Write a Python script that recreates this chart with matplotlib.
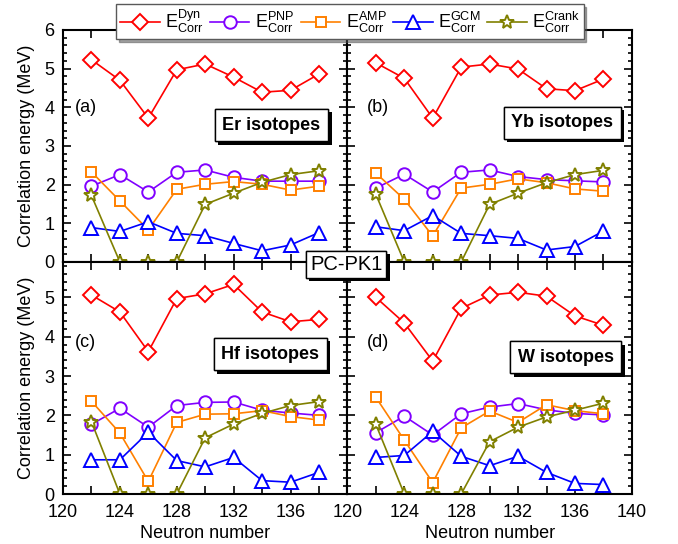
import matplotlib
matplotlib.use("Agg")
import matplotlib.pyplot as plt
import matplotlib.patheffects as pe
from matplotlib.ticker import MultipleLocator

plt.rcParams['font.family'] = ['Liberation Sans', 'DejaVu Sans']
plt.rcParams['mathtext.fontset'] = 'custom'
plt.rcParams['mathtext.rm'] = 'Liberation Sans'
plt.rcParams['mathtext.it'] = 'Liberation Sans'

neutrons = [122, 124, 126, 128, 130, 132, 134, 136, 138]

er_dyn = [5.23, 4.70, 3.72, 4.97, 5.12, 4.78, 4.39, 4.44, 4.86]
er_pnp = [1.96, 2.26, 1.81, 2.32, 2.38, 2.19, 2.09, 2.09, 2.09]
er_amp = [2.33, 1.58, 0.83, 1.88, 2.01, 2.08, 2.01, 1.86, 1.96]
er_gcm = [0.89, 0.79, 1.04, 0.74, 0.68, 0.48, 0.29, 0.44, 0.76]
er_crank = [1.72, 0.0, 0.0, 0.0, 1.49, 1.78, 2.06, 2.26, 2.36]

yb_dyn = [5.15, 4.75, 3.72, 5.04, 5.12, 4.99, 4.48, 4.43, 4.73]
yb_pnp = [1.91, 2.27, 1.81, 2.32, 2.38, 2.21, 2.13, 2.10, 2.07]
yb_amp = [2.30, 1.62, 0.67, 1.91, 2.01, 2.15, 2.05, 1.89, 1.83]
yb_gcm = [0.91, 0.81, 1.20, 0.74, 0.68, 0.61, 0.31, 0.40, 0.80]
yb_crank = [1.75, 0.0, 0.0, 0.0, 1.49, 1.78, 2.05, 2.26, 2.37]

hf_dyn = [5.06, 4.63, 3.62, 4.97, 5.09, 5.33, 4.63, 4.38, 4.44]
hf_pnp = [1.77, 2.18, 1.70, 2.25, 2.33, 2.34, 2.13, 2.06, 2.00]
hf_amp = [2.36, 1.55, 0.32, 1.82, 2.03, 2.04, 2.12, 1.97, 1.88]
hf_gcm = [0.87, 0.87, 1.57, 0.85, 0.69, 0.93, 0.34, 0.30, 0.55]
hf_crank = [1.84, 0.0, 0.0, 0.0, 1.43, 1.78, 2.05, 2.25, 2.35]

w_dyn = [5.00, 4.35, 3.38, 4.72, 5.06, 5.13, 5.03, 4.53, 4.29]
w_pnp = [1.56, 1.98, 1.50, 2.04, 2.21, 2.30, 2.14, 2.05, 2.01]
w_amp = [2.46, 1.37, 0.29, 1.68, 2.11, 1.82, 2.27, 2.12, 2.04]
w_gcm = [0.93, 0.98, 1.59, 0.96, 0.72, 0.96, 0.55, 0.27, 0.24]
w_crank = [1.77, 0.0, 0.0, 0.0, 1.33, 1.70, 1.96, 2.13, 2.31]

panels = [
    ("(a)", "Er isotopes", [er_dyn, er_pnp, er_amp, er_gcm, er_crank]),
    ("(b)", "Yb isotopes", [yb_dyn, yb_pnp, yb_amp, yb_gcm, yb_crank]),
    ("(c)", "Hf isotopes", [hf_dyn, hf_pnp, hf_amp, hf_gcm, hf_crank]),
    ("(d)", "W isotopes", [w_dyn, w_pnp, w_amp, w_gcm, w_crank]),
]

series_labels = [r'E$^{\rm Dyn}_{\rm Corr}$', r'E$^{\rm PNP}_{\rm Corr}$',
                 r'E$^{\rm AMP}_{\rm Corr}$', r'E$^{\rm GCM}_{\rm Corr}$',
                 r'E$^{\rm Crank}_{\rm Corr}$']
colors = ['#ff0000', '#8000ff', '#ff8000', '#0000ff', '#808000']
markers = ['D', 'o', 's', '^', '*']
msizes = [8, 9, 7.5, 10, 10]

fig = plt.figure(figsize=(6.78, 5.44), dpi=100)

left = 0.0929
w = 0.4195
h = 0.4265
bottoms = [0.5184, 0.5184, 0.0919, 0.0919]
lefts = [left, left + w, left, left + w]

# positions of label boxes (axes fraction)
tag_x = [0.042, 0.07, 0.042, 0.07]
tag_y = [0.664, 0.664, 0.655, 0.655]
box_x = [0.733, 0.755, 0.729, 0.768]
box_y = [0.59, 0.60, 0.603, 0.59]

handles = []
for i, (tag, name, series) in enumerate(panels):
    ax = fig.add_axes([lefts[i], bottoms[i], w, h])
    for j, vals in enumerate(series):
        ln, = ax.plot(neutrons, vals, color=colors[j], marker=markers[j],
                      markersize=msizes[j], markerfacecolor='white',
                      markeredgewidth=1.4, linewidth=1.2, label=series_labels[j])
        if i == 0:
            handles.append(ln)
    ax.set_xlim(120, 140)
    if i < 2:
        ax.set_ylim(0, 6)
    else:
        ax.set_ylim(0, 5.9)
    ax.xaxis.set_major_locator(MultipleLocator(2))
    ax.yaxis.set_major_locator(MultipleLocator(1))
    ax.yaxis.set_minor_locator(MultipleLocator(0.2))
    ax.tick_params(which='both', direction='in', top=True, right=True,
                   labelsize=13, width=1.2)
    ax.tick_params(which='major', length=6)
    ax.tick_params(which='minor', length=3)
    ax.tick_params(axis='x', pad=7)
    ax.tick_params(axis='y', pad=6)
    for s in ax.spines.values():
        s.set_linewidth(1.5)

    if i >= 2:
        ticks = list(range(120, 141, 2))
        if i == 2:
            labs = [str(t) if t % 4 == 0 and t < 140 else '' for t in ticks]
        else:
            labs = [str(t) if t % 4 == 0 else '' for t in ticks]
        ax.set_xticks(ticks)
        ax.set_xticklabels(labs)
        ax.set_xlabel('Neutron number', fontsize=13, labelpad=3)
    else:
        ax.tick_params(labelbottom=False)

    if i % 2 == 0:
        ax.set_ylabel('Correlation energy (MeV)', fontsize=13, labelpad=7)
    else:
        ax.tick_params(labelleft=False)

    ax.text(tag_x[i], tag_y[i], tag, transform=ax.transAxes, fontsize=13,
            ha='left', va='center')
    t = ax.text(box_x[i], box_y[i], name, transform=ax.transAxes, fontsize=13,
                fontweight='bold', ha='center', va='center',
                bbox=dict(boxstyle='square,pad=0.42', facecolor='white',
                          edgecolor='black', linewidth=1.0))
    t.get_bbox_patch().set_path_effects(
        [pe.withSimplePatchShadow(offset=(2.5, -2.5), shadow_rgbFace='black', alpha=1.0),
         pe.Normal()])

pc = fig.text(0.5105, 0.5145, 'PC-PK1', fontsize=14.5, ha='center', va='center',
              bbox=dict(boxstyle='square,pad=0.2', facecolor='white',
                        edgecolor='black', linewidth=1.0), zorder=10)
pc.get_bbox_patch().set_path_effects(
    [pe.withSimplePatchShadow(offset=(2.5, -2.5), shadow_rgbFace='black', alpha=1.0),
     pe.Normal()])

leg = fig.legend(handles=handles, loc='upper center', bbox_to_anchor=(0.516, 0.992),
                 ncol=5, fontsize=13, frameon=True, fancybox=False, shadow=True,
                 handlelength=2.2, handletextpad=0.3, columnspacing=0.35,
                 borderpad=0.2, borderaxespad=0.0)
leg.get_frame().set_edgecolor('0.35')
leg.get_frame().set_linewidth(1.0)

fig.savefig('out.png', dpi=100)
